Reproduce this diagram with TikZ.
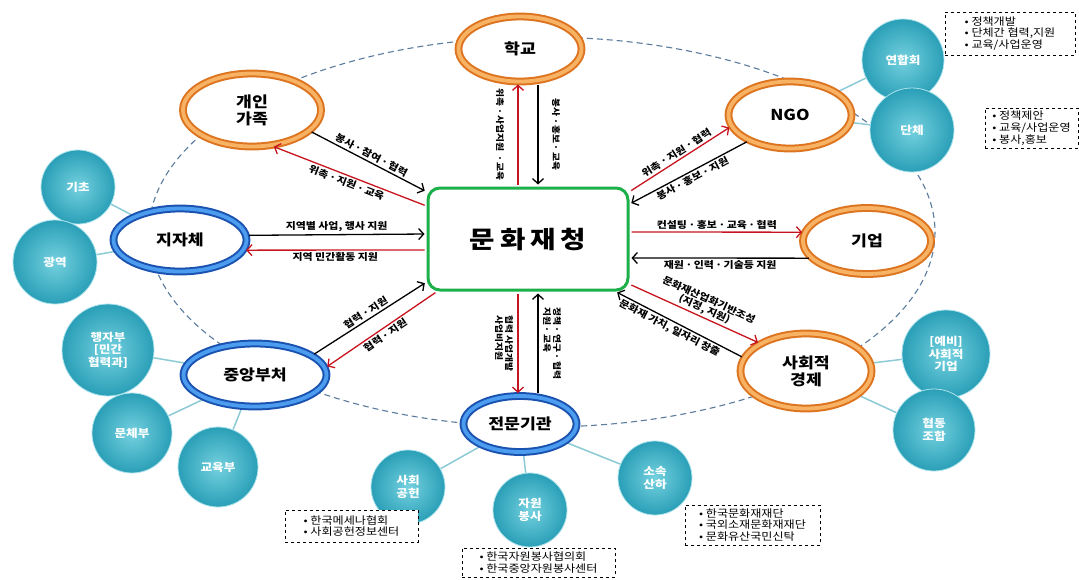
\documentclass[tikz,border=0pt]{standalone}
\usepackage{fontspec}
\setmainfont{Noto Sans CJK KR}[FakeStretch=1.15]
\usetikzlibrary{shapes.geometric, arrows.meta, positioning, backgrounds}

\definecolor{ringor}{HTML}{DD7420}
\definecolor{ringorlt}{HTML}{F7B263}
\definecolor{ringbl}{HTML}{1A52B0}
\definecolor{ringbllt}{HTML}{4C9CF0}
\definecolor{tealdk}{HTML}{2A9FB7}
\definecolor{teallt}{HTML}{74D1DF}
\definecolor{linkc}{HTML}{8CCBD6}
\definecolor{arrred}{HTML}{C8141E}
\definecolor{hubgreen}{HTML}{1DB04A}
\definecolor{orbitc}{HTML}{5B7C9E}

\newcommand{\dt}{\,·\,}

\begin{document}
\begin{tikzpicture}[
    x=1pt, y=-1pt,
    orring/.style={ellipse, draw=ringor, double=ringorlt, line width=2pt, double distance=3.8pt, fill=white, inner sep=0pt, align=center, font=\bfseries\fontsize{15}{17}\selectfont},
    blring/.style={ellipse, draw=ringbl, double=ringbllt, line width=2pt, double distance=3.8pt, fill=white, inner sep=0pt, align=center, font=\bfseries\fontsize{15}{17}\selectfont},
    hub/.style={rectangle, rounded corners=12pt, draw=hubgreen, line width=3pt, fill=white, minimum width=200pt, minimum height=102pt, font=\bfseries\fontsize{24}{26}\selectfont},
    tealc/.style={circle, draw=teallt!60!white, line width=0.8pt, inner color=teallt, outer color=tealdk, text=white, inner sep=0pt, align=center, font=\bfseries\fontsize{11}{12.5}\selectfont},
    note/.style={draw, dashed, fill=white, align=left, inner sep=3pt, font=\fontsize{10.5}{11.8}\selectfont},
    redarr/.style={draw=arrred, line width=1.3pt, shorten >=2pt, shorten <=2pt, -{Straight Barb[length=5pt,width=11pt]}},
    blkarr/.style={draw=black, line width=1.3pt, shorten >=2pt, shorten <=2pt, -{Straight Barb[length=5pt,width=11pt]}},
    lbl/.style={inner sep=2pt, font=\bfseries\fontsize{9.5}{10.5}\selectfont},
    vlbl/.style={inner sep=2pt, rotate=-90, font=\bfseries\fontsize{8.5}{10}\selectfont},
    link/.style={draw=linkc, line width=1.5pt}
]

% background and orbit
\begin{scope}[on background layer]
\fill[white] (0,0) rectangle (1079,579);
\end{scope}
\useasboundingbox (0,0) rectangle (1079,579);
\draw[orbitc, line width=1.1pt, dash pattern=on 6pt off 4pt] (542,232) ellipse [x radius=393, y radius=195];

% hub and partners
\node[hub] (munhwa) at (528,239) {문\hspace{5pt}화\hspace{5pt}재\hspace{5pt}청};
\node[orring, minimum width=123pt, minimum height=65pt] (hak) at (520,49) {학교};
\node[orring, minimum width=138pt, minimum height=73pt] (gaein) at (252,110) {개인\\가족};
\node[orring, minimum width=123pt, minimum height=67pt] (ngo) at (790,115) {NGO};
\node[orring, minimum width=128pt, minimum height=66pt] (giup) at (867,241) {기업};
\node[orring, minimum width=131pt, minimum height=75pt] (sahoe) at (806,371) {사회적\\경제};
\node[blring, minimum width=133pt, minimum height=63pt] (jijache) at (180,240) {지자체};
\node[blring, minimum width=143pt, minimum height=63pt] (jungang) at (255,375) {중앙부처};
\node[blring, minimum width=113pt, minimum height=56pt] (jeonmun) at (520,424) {전문기관};

% member circles
\node[tealc, minimum size=74pt] (gicho) at (78,187) {기초};
\node[tealc, minimum size=84pt] (gwangyeok) at (55,262) {광역};
\node[tealc, minimum size=82pt] (yeonhap) at (903,60) {연합회};
\node[tealc, minimum size=84pt] (danche) at (912,130) {단체};
\node[tealc, minimum size=92pt] (haengja) at (108,350) {행자부\\{[}민간\\협력과{]}};
\node[tealc, minimum size=80pt] (munche) at (132,433) {문체부};
\node[tealc, minimum size=80pt] (gyoyuk) at (218,467) {교육부};
\node[tealc, minimum size=74pt] (sahoegong) at (408,487) {사회\\공헌};
\node[tealc, minimum size=74pt] (jawon) at (530,510) {자원\\봉사};
\node[tealc, minimum size=74pt] (sosok) at (655,478) {소속\\산하};
\node[tealc, minimum size=88pt] (yebi) at (946,354) {{[}예비{]}\\사회적\\기업};
\node[tealc, minimum size=82pt] (hyeopdong) at (934,430) {협동\\조합};

\begin{scope}[on background layer]
\foreach \a/\b in {gicho/jijache, gwangyeok/jijache, yeonhap/ngo, danche/ngo, haengja/jungang, munche/jungang, gyoyuk/jungang, sahoegong/jeonmun, jawon/jeonmun, sosok/jeonmun, yebi/sahoe, hyeopdong/sahoe}
    \draw[link] (\a) -- (\b);
\end{scope}

% notes
\node[note, minimum width=130pt, minimum height=43pt] (noteNgo) at (1010,33.5) {• 정책개발\\• 단체간 협력,지원\\• 교육/사업운영};
\node[note, minimum width=93pt, minimum height=40pt] (noteDanche) at (1031.5,128) {• 정책제안\\• 교육/사업운영\\• 봉사,홍보};
\node[note, minimum width=133pt, minimum height=32pt] (noteSahoe) at (351.5,526) {• 한국메세나협회\\• 사회공헌정보센터};
\node[note, minimum width=153pt, minimum height=29pt] (noteJawon) at (538.5,562.5) {• 한국자원봉사협의회\\• 한국중앙자원봉사센터};
\node[note, minimum width=135pt, minimum height=40pt] (noteSosok) at (752.5,525) {• 한국문화재재단\\• 국외소재문화재재단\\• 문화유산국민신탁};

% flows
\draw[redarr] ([xshift=-10pt]munhwa.north) -- node[vlbl, anchor=north, outer ysep=12pt] {위촉\dt 사업지원 \dt 교육} ([xshift=-2pt]hak.south);
\draw[blkarr] ([xshift=18pt]hak.south) -- node[vlbl, anchor=south, outer ysep=12pt] {봉사\dt 홍보\dt 교육} ([xshift=10pt]munhwa.north);

\draw[blkarr] (gaein.-20) -- node[lbl, sloped, above] {봉사\dt 참여\dt 협력} (munhwa.155);
\draw[redarr] (munhwa.162) -- node[lbl, sloped, below] {위촉\dt 지원\dt 교육} (gaein.-61);

\draw[redarr] (munhwa.25) -- node[lbl, sloped, above] {위촉\dt 지원\dt 협력} (ngo.191);
\draw[blkarr] (ngo.212) -- node[lbl, sloped, below] {봉사\dt 홍보\dt 지원} (munhwa.19);

\draw[redarr] ([yshift=7pt]munhwa.east) -- node[lbl, above] {컨설팅\dt 홍보\dt 교육\dt 협력} (giup.172);
\draw[blkarr] (giup.197) -- node[lbl, below] {재원\dt 인력\dt 기술등 지원} ([yshift=-19pt]munhwa.east);

\draw[blkarr] (jijache.4) -- node[lbl, above] {지역별 사업, 행사 지원} ([yshift=5pt]munhwa.west);
\draw[redarr] ([yshift=-11pt]munhwa.west) -- node[lbl, below] {지역 민간활동 지원} (jijache.-9);

\draw[blkarr] (jungang.19) -- node[lbl, sloped, above] {협력\dt 지원} (munhwa.203);
\draw[redarr] (munhwa.210) -- node[lbl, sloped, below] {협력\dt 지원} (jungang.6);

\draw[redarr] ([xshift=-10pt]munhwa.south) -- node[vlbl, anchor=north, align=left, outer ysep=3pt] {협력 사업개발\\사업비지원} ([xshift=-2pt]jeonmun.north);
\draw[blkarr] ([xshift=18pt]jeonmun.north) -- node[vlbl, anchor=south, align=left, outer ysep=3pt] {정책\dt 연구\dt 협력\\지원\dt 교육} ([xshift=10pt]munhwa.south);

\draw[redarr] (munhwa.-24) -- node[lbl, sloped, above, align=center, pos=0.55] {문화재산업화기반조성\\(지정, 지원)} (sahoe.149);
\draw[blkarr] (sahoe.168) -- node[lbl, sloped, below, pos=0.55] {문화재 가치, 일자리 창출} (munhwa.-31);

\end{tikzpicture}
\end{document}
